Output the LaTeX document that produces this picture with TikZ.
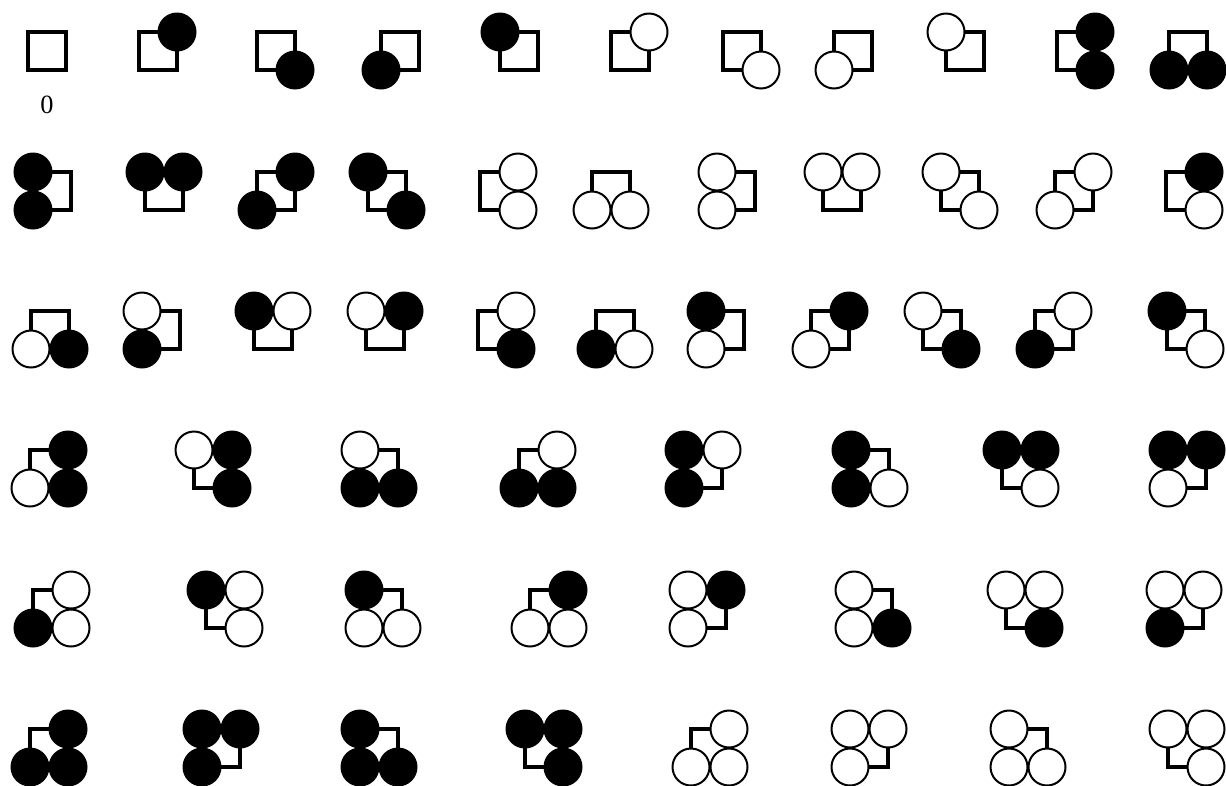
\documentclass[tikz,border=0pt]{standalone}
\usepackage{fontspec}
\setmainfont{Liberation Serif}
\usepackage{tikz}
\usetikzlibrary{positioning,calc}

\tikzset{
  sq/.style={draw=black, line width=0.078cm, fill=none},
  cb/.style={fill=black, draw=black, line width=0.04cm},
  cw/.style={fill=white, draw=black, line width=0.04cm},
  cn/.style={}
}

% one cell: left, top, then corners TL TR BL BR (b = black, w = white, n = none)
\newcommand{\unitcell}[6]{%
  \draw[sq] (#1,#2) rectangle ++(38,38);
  \path[c#3] (#1,#2) circle (0.37cm);
  \path[c#4] ($(#1,#2)+(38,0)$) circle (0.37cm);
  \path[c#5] ($(#1,#2)+(0,38)$) circle (0.37cm);
  \path[c#6] ($(#1,#2)+(38,38)$) circle (0.37cm);
}

\begin{document}
\begin{tikzpicture}[x=0.02cm, y=-0.02cm]
  \useasboundingbox (0,0) rectangle (1226,785);

  % Row 1: empty cell and single corners
  \unitcell{28}{32}{n}{n}{n}{n}
  \node[font=\fontsize{15}{17}\selectfont] (zero) at (47,105) {0};
  \unitcell{139}{32}{n}{b}{n}{n}
  \unitcell{257}{32}{n}{n}{n}{b}
  \unitcell{381}{32}{n}{n}{b}{n}
  \unitcell{500}{32}{b}{n}{n}{n}
  \unitcell{611}{32}{n}{w}{n}{n}
  \unitcell{723}{32}{n}{n}{n}{w}
  \unitcell{834}{32}{n}{n}{w}{n}
  \unitcell{946}{32}{w}{n}{n}{n}
  \unitcell{1057}{32}{n}{b}{n}{b}
  \unitcell{1169}{32}{n}{n}{b}{b}

  % Row 2: pairs
  \unitcell{33}{172}{b}{n}{b}{n}
  \unitcell{145}{172}{b}{b}{n}{n}
  \unitcell{257}{172}{n}{b}{b}{n}
  \unitcell{368}{172}{b}{n}{n}{b}
  \unitcell{480}{172}{n}{w}{n}{w}
  \unitcell{592}{172}{n}{n}{w}{w}
  \unitcell{717}{172}{w}{n}{w}{n}
  \unitcell{823}{172}{w}{w}{n}{n}
  \unitcell{941}{172}{w}{n}{n}{w}
  \unitcell{1055}{172}{n}{w}{w}{n}
  \unitcell{1166}{172}{n}{b}{n}{w}

  % Row 3: mixed pairs
  \unitcell{31}{311}{n}{n}{w}{b}
  \unitcell{142}{311}{w}{n}{b}{n}
  \unitcell{254}{311}{b}{w}{n}{n}
  \unitcell{366}{311}{w}{b}{n}{n}
  \unitcell{478}{311}{n}{w}{n}{b}
  \unitcell{596}{311}{n}{n}{b}{w}
  \unitcell{706}{311}{b}{n}{w}{n}
  \unitcell{811}{311}{n}{b}{w}{n}
  \unitcell{923}{311}{w}{n}{n}{b}
  \unitcell{1035}{311}{n}{w}{b}{n}
  \unitcell{1167}{311}{b}{n}{n}{w}

  % Row 4: triples, two black
  \unitcell{30}{450}{n}{b}{w}{b}
  \unitcell{194}{450}{w}{b}{n}{b}
  \unitcell{360}{450}{w}{n}{b}{b}
  \unitcell{519}{450}{n}{w}{b}{b}
  \unitcell{684}{450}{b}{w}{b}{n}
  \unitcell{851}{450}{b}{n}{b}{w}
  \unitcell{1002}{450}{b}{b}{n}{w}
  \unitcell{1168}{450}{b}{b}{w}{n}

  % Row 5: triples, one black
  \unitcell{33}{590}{n}{w}{b}{w}
  \unitcell{206}{590}{b}{w}{n}{w}
  \unitcell{364}{590}{b}{n}{w}{w}
  \unitcell{530}{590}{n}{b}{w}{w}
  \unitcell{688}{590}{w}{b}{w}{n}
  \unitcell{854}{590}{w}{n}{w}{b}
  \unitcell{1006}{590}{w}{w}{n}{b}
  \unitcell{1165}{590}{w}{w}{b}{n}

  % Row 6: triples, all black / all white
  \unitcell{30}{729}{n}{b}{b}{b}
  \unitcell{202}{729}{b}{b}{b}{n}
  \unitcell{360}{729}{b}{n}{b}{b}
  \unitcell{525}{729}{b}{b}{n}{b}
  \unitcell{691}{729}{n}{w}{w}{w}
  \unitcell{850}{729}{w}{w}{w}{n}
  \unitcell{1009}{729}{w}{n}{w}{w}
  \unitcell{1168}{729}{w}{w}{n}{w}
\end{tikzpicture}
\end{document}
